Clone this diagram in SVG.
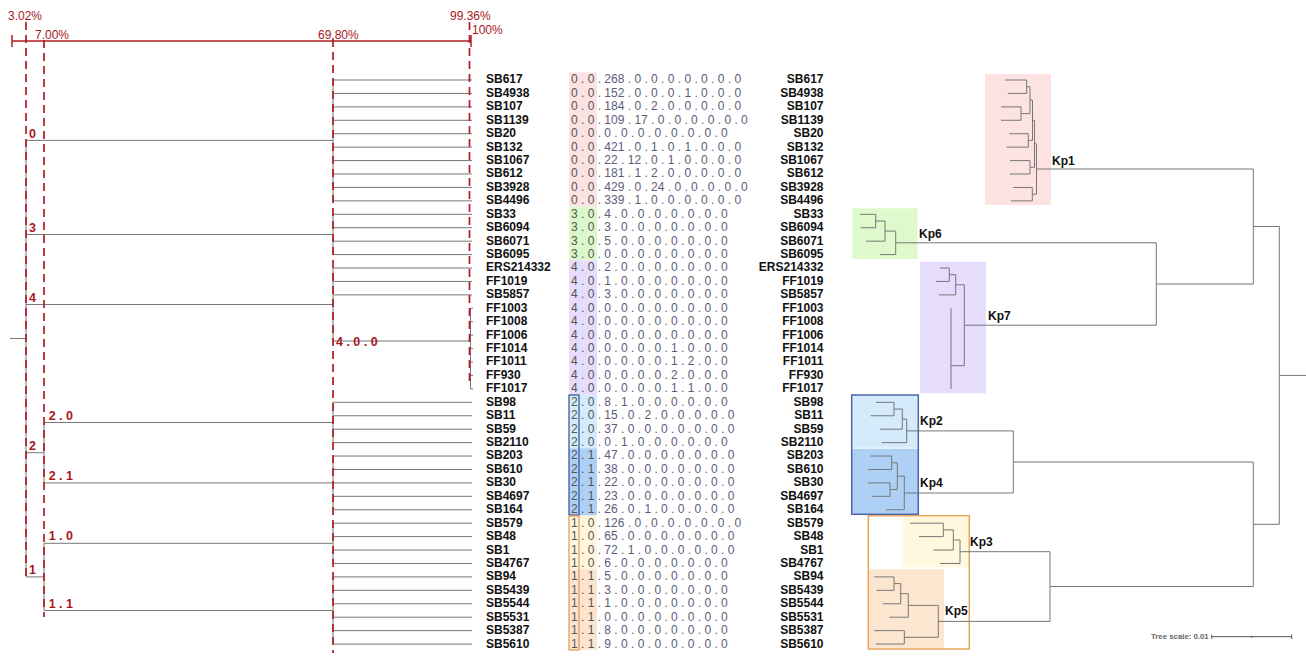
<svg xmlns="http://www.w3.org/2000/svg" width="1306" height="656" viewBox="0 0 1306 656">
<style>
.ax{fill:#a8161e;font-family:"Liberation Sans",Arial,sans-serif;font-size:12px}
.cl{fill:#a8161e;font-family:"Liberation Sans",Arial,sans-serif;font-size:12.5px;font-weight:bold}
.dash{stroke:#b01c22;stroke-width:1.7;stroke-dasharray:8 5;fill:none}
.red{stroke:#b01c22;stroke-width:1.5;fill:none}
.tr{stroke:#777;stroke-width:1;fill:none}
.nm{font-family:"Liberation Sans",Arial,sans-serif;font-size:12px;font-weight:bold;fill:#111}
.nr{font-family:"Liberation Sans",Arial,sans-serif;font-size:12px;font-weight:bold;fill:#111;text-anchor:end}
.cd{font-family:"Liberation Sans",Arial,sans-serif;font-size:12px;fill:#5c5c7a}
.h{fill:#555}
.kp{font-family:"Liberation Sans",Arial,sans-serif;font-size:12px;font-weight:bold;fill:#111}
</style>

<!-- highlight bands -->
<g id="bands">
<rect x="569" y="72.3" width="28" height="134.3" fill="#fde2e2"/>
<rect x="569" y="206.6" width="28" height="53.7" fill="#dcf7cb"/>
<rect x="569" y="260.3" width="28" height="134.3" fill="#e6dcfb"/>
<rect x="569" y="394.6" width="28" height="53.7" fill="#d3ebfb"/>
<rect x="569" y="448.3" width="28" height="67.2" fill="#aed0f5"/>
<rect x="569" y="515.5" width="28" height="53.7" fill="#fff6dc"/>
<rect x="569" y="569.2" width="28" height="80.6" fill="#fde4cf"/>
<rect x="569" y="395" width="10" height="120" fill="none" stroke="#3f5b9a" stroke-width="1.3"/>
<rect x="569" y="516" width="10" height="134" fill="none" stroke="#e3a05a" stroke-width="1.3"/>
</g>

<!-- clade boxes -->
<g id="clades">
<rect x="985" y="74" width="66" height="131" fill="#fde2e2"/>
<rect x="852.3" y="208.3" width="65.4" height="50.7" fill="#def9cc"/>
<rect x="920" y="261.7" width="66" height="131.6" fill="#e6dcfb"/>
<rect x="851.7" y="395" width="66.6" height="52.7" fill="#d3ebfb"/>
<rect x="851.7" y="448.7" width="66.6" height="65.6" fill="#aed0f5"/>
<rect x="851.7" y="395" width="66.6" height="119.3" fill="none" stroke="#4a67a8" stroke-width="1.5"/>
<rect x="903.3" y="516.7" width="65.7" height="50.6" fill="#fff8de"/>
<rect x="869" y="569.3" width="75" height="79" fill="#fde6d0"/>
<rect x="868.3" y="515.7" width="101" height="133.3" fill="none" stroke="#e9a55a" stroke-width="1.5"/>
</g>

<!-- connectors -->
<g id="connectors">
<!-- left tree -->
<path class="tr" d="M10 338.5H26 M26 140.4V576.9
M26 140.4H333 M333 80V200.87
M26 234.5H333 M333 214.3V254.59
M26 304.5H333 M333 268.02V341
M333 341H470.5 M470.5 308.31V388.89
M26 452.7H44 M44 422.5V482.9
M44 422.5H333 M333 402.32V442.61
M44 482.9H333 M333 456.04V509.76
M26 576.9H44 M44 543.3V610.5
M44 543.3H333 M333 523.19V563.48
M44 610.5H333 M333 576.91V644.06
M333 80H472 M333 93.43H472 M333 106.86H472 M333 120.29H472 M333 133.72H472 M333 147.15H472 M333 160.58H472 M333 174.01H472 M333 187.44H472 M333 200.87H472
M333 214.3H472 M333 227.73H472 M333 241.16H472 M333 254.59H472
M333 268.02H472 M333 281.45H472 M333 294.88H472
M470.5 308.31H473 M470.5 321.74H473 M470.5 335.17H473 M470.5 348.6H473 M470.5 362.03H473 M470.5 375.46H473 M470.5 388.89H473
M333 402.32H472 M333 415.75H472 M333 429.18H472 M333 442.61H472
M333 456.04H472 M333 469.47H472 M333 482.9H472 M333 496.33H472 M333 509.76H472
M333 523.19H472 M333 536.62H472 M333 550.05H472 M333 563.48H472
M333 576.91H472 M333 590.34H472 M333 603.77H472 M333 617.2H472 M333 630.63H472 M333 644.06H472"/>
<!-- right tree -->
<path class="tr" d="M1005 80H1026.7 M1007.7 93.43H1026.7 M1026.7 80V93.43 M1026.7 86.7H1030
M1001 106.86H1021 M1001 120.29H1021 M1021 106.86V120.29 M1021 113.6H1030
M1030 86.7V113.6 M1030 100.1H1032.5
M1009.3 133.72H1028.3 M1006.7 147.15H1028.3 M1028.3 133.72V147.15 M1028.3 140.4H1032.5
M1032.5 100.1V140.4 M1032.5 120.3H1034.5
M1010 160.58H1030 M1010 174.01H1030 M1030 160.58V174.01 M1030 167.3H1034.5
M1034.5 120.3V167.3 M1034.5 143.8H1036.5
M1013.3 187.44H1032.3 M1011 200.87H1032.3 M1032.3 187.44V200.87 M1032.3 194.2H1036.5
M1036.5 143.8V194.2 M1036.5 169H1253.3
M860 214.3H875.7 M860.7 227.73H875.7 M875.7 214.3V227.73 M875.7 221H885
M866 241.16H885 M885 221V241.16 M885 231.1H895.7
M880 254.59H895.7 M895.7 231.1V254.59 M895.7 242.8H1156.3
M940 268.02H949.3 M936 281.45H949.3 M949.3 268.02V281.45 M949.3 274.7H955.7
M939 294.88H955.7 M955.7 274.7V294.88 M955.7 284.8H964.3
M951 308.31V388.89 M951 365.7H964.3
M964.3 284.8V365.7 M964.3 325.2H1156.3
M1156.3 242.8V325.2 M1156.3 284H1253.3
M1253.3 169V284 M1253.3 226.5H1279.3
M876 402.32H894 M870.7 415.75H894 M894 402.32V415.75 M894 409H902.3
M880 429.18H902.3 M902.3 409V429.18 M902.3 419.1H906.7
M881.7 442.61H906.7 M906.7 419.1V442.61 M906.7 430.9H1013.3
M870.7 456.04H891.7 M868.3 469.47H891.7 M891.7 456.04V469.47 M891.7 462.8H897.3
M868.3 482.9H890 M871.7 496.33H890 M890 482.9V496.33 M890 489.6H897.3
M897.3 462.8V489.6 M897.3 476.2H904.3
M886 509.76H904.3 M904.3 476.2V509.76 M904.3 493H1013.3
M1013.3 430.9V493 M1013.3 462H1253.3
M910 523.19H943.3 M919 536.62H943.3 M943.3 523.19V536.62 M943.3 529.9H953.3
M933.3 550.05H953.3 M953.3 529.9V550.05 M953.3 540H960
M940 563.48H960 M960 540V563.48 M960 551.7H1050
M874.3 576.91H894 M876.7 590.34H894 M894 576.91V590.34 M894 583.6H900.7
M882.7 603.77H900.7 M900.7 583.6V603.77 M900.7 593.7H908.3
M889.3 617.2H908.3 M908.3 593.7V617.2 M908.3 605.4H938.3
M874.3 630.63H904.3 M875.7 644.06H904.3 M904.3 630.63V644.06 M904.3 637.3H938.3
M938.3 605.4V637.3 M938.3 621.4H1050
M1050 551.7V621.4 M1050 586.5H1253.3
M1253.3 462V586.5 M1253.3 524.3H1279.3
M1279.3 226.5V524.3 M1279.3 375.4H1306"/>
</g>

<!-- axis -->
<g id="axis">
<path class="red" d="M12 41H471 M12 35V47 M471 35V47"/>
<path class="dash" d="M26 22V581 M44 40V617 M333 39V653 M469.5 22V386"/>
<text class="ax" x="8" y="20">3.02%</text>
<text class="ax" x="35" y="38.5">7.00%</text>
<text class="ax" x="318" y="38.5">69.80%</text>
<text class="ax" x="450" y="20">99.36%</text>
<text class="ax" x="472" y="33.5">100%</text>
</g>

<g id="cluster-labels">
<text class="cl" x="29" y="137.8">0</text>
<text class="cl" x="29" y="231.8">3</text>
<text class="cl" x="29" y="301.8">4</text>
<text class="cl" x="336" y="346">4 . 0 . 0</text>
<text class="cl" x="29" y="449.8">2</text>
<text class="cl" x="48.7" y="419.6">2 . 0</text>
<text class="cl" x="48.7" y="480">2 . 1</text>
<text class="cl" x="29" y="573.8">1</text>
<text class="cl" x="48.7" y="540.4">1 . 0</text>
<text class="cl" x="48.7" y="607.6">1 . 1</text>
</g>

<g id="rows">
<g id="r-SB617"><text class="nm" x="486" y="83.4">SB617</text><text class="cd" x="571" y="83.4"><tspan class="h">0 . 0</tspan> . 268 . 0 . 0 . 0 . 0 . 0 . 0 . 0</text><text class="nr" x="823.5" y="83.4">SB617</text></g>
<g id="r-SB4938"><text class="nm" x="486" y="96.8">SB4938</text><text class="cd" x="571" y="96.8"><tspan class="h">0 . 0</tspan> . 152 . 0 . 0 . 0 . 1 . 0 . 0 . 0</text><text class="nr" x="823.5" y="96.8">SB4938</text></g>
<g id="r-SB107"><text class="nm" x="486" y="110.3">SB107</text><text class="cd" x="571" y="110.3"><tspan class="h">0 . 0</tspan> . 184 . 0 . 2 . 0 . 0 . 0 . 0 . 0</text><text class="nr" x="823.5" y="110.3">SB107</text></g>
<g id="r-SB1139"><text class="nm" x="486" y="123.7">SB1139</text><text class="cd" x="571" y="123.7"><tspan class="h">0 . 0</tspan> . 109 . 17 . 0 . 0 . 0 . 0 . 0 . 0</text><text class="nr" x="823.5" y="123.7">SB1139</text></g>
<g id="r-SB20"><text class="nm" x="486" y="137.1">SB20</text><text class="cd" x="571" y="137.1"><tspan class="h">0 . 0</tspan> . 0 . 0 . 0 . 0 . 0 . 0 . 0 . 0</text><text class="nr" x="823.5" y="137.1">SB20</text></g>
<g id="r-SB132"><text class="nm" x="486" y="150.6">SB132</text><text class="cd" x="571" y="150.6"><tspan class="h">0 . 0</tspan> . 421 . 0 . 1 . 0 . 1 . 0 . 0 . 0</text><text class="nr" x="823.5" y="150.6">SB132</text></g>
<g id="r-SB1067"><text class="nm" x="486" y="164">SB1067</text><text class="cd" x="571" y="164"><tspan class="h">0 . 0</tspan> . 22 . 12 . 0 . 1 . 0 . 0 . 0 . 0</text><text class="nr" x="823.5" y="164">SB1067</text></g>
<g id="r-SB612"><text class="nm" x="486" y="177.4">SB612</text><text class="cd" x="571" y="177.4"><tspan class="h">0 . 0</tspan> . 181 . 1 . 2 . 0 . 0 . 0 . 0 . 0</text><text class="nr" x="823.5" y="177.4">SB612</text></g>
<g id="r-SB3928"><text class="nm" x="486" y="190.8">SB3928</text><text class="cd" x="571" y="190.8"><tspan class="h">0 . 0</tspan> . 429 . 0 . 24 . 0 . 0 . 0 . 0 . 0</text><text class="nr" x="823.5" y="190.8">SB3928</text></g>
<g id="r-SB4496"><text class="nm" x="486" y="204.3">SB4496</text><text class="cd" x="571" y="204.3"><tspan class="h">0 . 0</tspan> . 339 . 1 . 0 . 0 . 0 . 0 . 0 . 0</text><text class="nr" x="823.5" y="204.3">SB4496</text></g>
<g id="r-SB33"><text class="nm" x="486" y="217.7">SB33</text><text class="cd" x="571" y="217.7"><tspan class="h">3 . 0</tspan> . 4 . 0 . 0 . 0 . 0 . 0 . 0 . 0</text><text class="nr" x="823.5" y="217.7">SB33</text></g>
<g id="r-SB6094"><text class="nm" x="486" y="231.1">SB6094</text><text class="cd" x="571" y="231.1"><tspan class="h">3 . 0</tspan> . 3 . 0 . 0 . 0 . 0 . 0 . 0 . 0</text><text class="nr" x="823.5" y="231.1">SB6094</text></g>
<g id="r-SB6071"><text class="nm" x="486" y="244.6">SB6071</text><text class="cd" x="571" y="244.6"><tspan class="h">3 . 0</tspan> . 5 . 0 . 0 . 0 . 0 . 0 . 0 . 0</text><text class="nr" x="823.5" y="244.6">SB6071</text></g>
<g id="r-SB6095"><text class="nm" x="486" y="258">SB6095</text><text class="cd" x="571" y="258"><tspan class="h">3 . 0</tspan> . 0 . 0 . 0 . 0 . 0 . 0 . 0 . 0</text><text class="nr" x="823.5" y="258">SB6095</text></g>
<g id="r-ERS214332"><text class="nm" x="486" y="271.4">ERS214332</text><text class="cd" x="571" y="271.4"><tspan class="h">4 . 0</tspan> . 2 . 0 . 0 . 0 . 0 . 0 . 0 . 0</text><text class="nr" x="823.5" y="271.4">ERS214332</text></g>
<g id="r-FF1019"><text class="nm" x="486" y="284.9">FF1019</text><text class="cd" x="571" y="284.9"><tspan class="h">4 . 0</tspan> . 1 . 0 . 0 . 0 . 0 . 0 . 0 . 0</text><text class="nr" x="823.5" y="284.9">FF1019</text></g>
<g id="r-SB5857"><text class="nm" x="486" y="298.3">SB5857</text><text class="cd" x="571" y="298.3"><tspan class="h">4 . 0</tspan> . 3 . 0 . 0 . 0 . 0 . 0 . 0 . 0</text><text class="nr" x="823.5" y="298.3">SB5857</text></g>
<g id="r-FF1003"><text class="nm" x="486" y="311.7">FF1003</text><text class="cd" x="571" y="311.7"><tspan class="h">4 . 0</tspan> . 0 . 0 . 0 . 0 . 0 . 0 . 0 . 0</text><text class="nr" x="823.5" y="311.7">FF1003</text></g>
<g id="r-FF1008"><text class="nm" x="486" y="325.1">FF1008</text><text class="cd" x="571" y="325.1"><tspan class="h">4 . 0</tspan> . 0 . 0 . 0 . 0 . 0 . 0 . 0 . 0</text><text class="nr" x="823.5" y="325.1">FF1008</text></g>
<g id="r-FF1006"><text class="nm" x="486" y="338.6">FF1006</text><text class="cd" x="571" y="338.6"><tspan class="h">4 . 0</tspan> . 0 . 0 . 0 . 0 . 0 . 0 . 0 . 0</text><text class="nr" x="823.5" y="338.6">FF1006</text></g>
<g id="r-FF1014"><text class="nm" x="486" y="352">FF1014</text><text class="cd" x="571" y="352"><tspan class="h">4 . 0</tspan> . 0 . 0 . 0 . 0 . 1 . 0 . 0 . 0</text><text class="nr" x="823.5" y="352">FF1014</text></g>
<g id="r-FF1011"><text class="nm" x="486" y="365.4">FF1011</text><text class="cd" x="571" y="365.4"><tspan class="h">4 . 0</tspan> . 0 . 0 . 0 . 0 . 1 . 2 . 0 . 0</text><text class="nr" x="823.5" y="365.4">FF1011</text></g>
<g id="r-FF930"><text class="nm" x="486" y="378.9">FF930</text><text class="cd" x="571" y="378.9"><tspan class="h">4 . 0</tspan> . 0 . 0 . 0 . 0 . 2 . 0 . 0 . 0</text><text class="nr" x="823.5" y="378.9">FF930</text></g>
<g id="r-FF1017"><text class="nm" x="486" y="392.3">FF1017</text><text class="cd" x="571" y="392.3"><tspan class="h">4 . 0</tspan> . 0 . 0 . 0 . 0 . 1 . 1 . 0 . 0</text><text class="nr" x="823.5" y="392.3">FF1017</text></g>
<g id="r-SB98"><text class="nm" x="486" y="405.7">SB98</text><text class="cd" x="571" y="405.7"><tspan class="h">2 . 0</tspan> . 8 . 1 . 0 . 0 . 0 . 0 . 0 . 0</text><text class="nr" x="823.5" y="405.7">SB98</text></g>
<g id="r-SB11"><text class="nm" x="486" y="419.2">SB11</text><text class="cd" x="571" y="419.2"><tspan class="h">2 . 0</tspan> . 15 . 0 . 2 . 0 . 0 . 0 . 0 . 0</text><text class="nr" x="823.5" y="419.2">SB11</text></g>
<g id="r-SB59"><text class="nm" x="486" y="432.6">SB59</text><text class="cd" x="571" y="432.6"><tspan class="h">2 . 0</tspan> . 37 . 0 . 0 . 0 . 0 . 0 . 0 . 0</text><text class="nr" x="823.5" y="432.6">SB59</text></g>
<g id="r-SB2110"><text class="nm" x="486" y="446">SB2110</text><text class="cd" x="571" y="446"><tspan class="h">2 . 0</tspan> . 0 . 1 . 0 . 0 . 0 . 0 . 0 . 0</text><text class="nr" x="823.5" y="446">SB2110</text></g>
<g id="r-SB203"><text class="nm" x="486" y="459.4">SB203</text><text class="cd" x="571" y="459.4"><tspan class="h">2 . 1</tspan> . 47 . 0 . 0 . 0 . 0 . 0 . 0 . 0</text><text class="nr" x="823.5" y="459.4">SB203</text></g>
<g id="r-SB610"><text class="nm" x="486" y="472.9">SB610</text><text class="cd" x="571" y="472.9"><tspan class="h">2 . 1</tspan> . 38 . 0 . 0 . 0 . 0 . 0 . 0 . 0</text><text class="nr" x="823.5" y="472.9">SB610</text></g>
<g id="r-SB30"><text class="nm" x="486" y="486.3">SB30</text><text class="cd" x="571" y="486.3"><tspan class="h">2 . 1</tspan> . 22 . 0 . 0 . 0 . 0 . 0 . 0 . 0</text><text class="nr" x="823.5" y="486.3">SB30</text></g>
<g id="r-SB4697"><text class="nm" x="486" y="499.7">SB4697</text><text class="cd" x="571" y="499.7"><tspan class="h">2 . 1</tspan> . 23 . 0 . 0 . 0 . 0 . 0 . 0 . 0</text><text class="nr" x="823.5" y="499.7">SB4697</text></g>
<g id="r-SB164"><text class="nm" x="486" y="513.2">SB164</text><text class="cd" x="571" y="513.2"><tspan class="h">2 . 1</tspan> . 26 . 0 . 1 . 0 . 0 . 0 . 0 . 0</text><text class="nr" x="823.5" y="513.2">SB164</text></g>
<g id="r-SB579"><text class="nm" x="486" y="526.6">SB579</text><text class="cd" x="571" y="526.6"><tspan class="h">1 . 0</tspan> . 126 . 0 . 0 . 0 . 0 . 0 . 0 . 0</text><text class="nr" x="823.5" y="526.6">SB579</text></g>
<g id="r-SB48"><text class="nm" x="486" y="540">SB48</text><text class="cd" x="571" y="540"><tspan class="h">1 . 0</tspan> . 65 . 0 . 0 . 0 . 0 . 0 . 0 . 0</text><text class="nr" x="823.5" y="540">SB48</text></g>
<g id="r-SB1"><text class="nm" x="486" y="553.5">SB1</text><text class="cd" x="571" y="553.5"><tspan class="h">1 . 0</tspan> . 72 . 1 . 0 . 0 . 0 . 0 . 0 . 0</text><text class="nr" x="823.5" y="553.5">SB1</text></g>
<g id="r-SB4767"><text class="nm" x="486" y="566.9">SB4767</text><text class="cd" x="571" y="566.9"><tspan class="h">1 . 0</tspan> . 6 . 0 . 0 . 0 . 0 . 0 . 0 . 0</text><text class="nr" x="823.5" y="566.9">SB4767</text></g>
<g id="r-SB94"><text class="nm" x="486" y="580.3">SB94</text><text class="cd" x="571" y="580.3"><tspan class="h">1 . 1</tspan> . 5 . 0 . 0 . 0 . 0 . 0 . 0 . 0</text><text class="nr" x="823.5" y="580.3">SB94</text></g>
<g id="r-SB5439"><text class="nm" x="486" y="593.7">SB5439</text><text class="cd" x="571" y="593.7"><tspan class="h">1 . 1</tspan> . 3 . 0 . 0 . 0 . 0 . 0 . 0 . 0</text><text class="nr" x="823.5" y="593.7">SB5439</text></g>
<g id="r-SB5544"><text class="nm" x="486" y="607.2">SB5544</text><text class="cd" x="571" y="607.2"><tspan class="h">1 . 1</tspan> . 1 . 0 . 0 . 0 . 0 . 0 . 0 . 0</text><text class="nr" x="823.5" y="607.2">SB5544</text></g>
<g id="r-SB5531"><text class="nm" x="486" y="620.6">SB5531</text><text class="cd" x="571" y="620.6"><tspan class="h">1 . 1</tspan> . 0 . 0 . 0 . 0 . 0 . 0 . 0 . 0</text><text class="nr" x="823.5" y="620.6">SB5531</text></g>
<g id="r-SB5387"><text class="nm" x="486" y="634">SB5387</text><text class="cd" x="571" y="634"><tspan class="h">1 . 1</tspan> . 8 . 0 . 0 . 0 . 0 . 0 . 0 . 0</text><text class="nr" x="823.5" y="634">SB5387</text></g>
<g id="r-SB5610"><text class="nm" x="486" y="647.5">SB5610</text><text class="cd" x="571" y="647.5"><tspan class="h">1 . 1</tspan> . 9 . 0 . 0 . 0 . 0 . 0 . 0 . 0</text><text class="nr" x="823.5" y="647.5">SB5610</text></g>
</g>

<g id="kp-labels">
<text class="kp" x="1052" y="164.5">Kp1</text>
<text class="kp" x="919" y="237.5">Kp6</text>
<text class="kp" x="988" y="320">Kp7</text>
<text class="kp" x="920" y="425">Kp2</text>
<text class="kp" x="920" y="487">Kp4</text>
<text class="kp" x="970" y="546">Kp3</text>
<text class="kp" x="945" y="614.5">Kp5</text>
</g>

<g id="tree-scale">
<text x="1151" y="639.4" font-family="'Liberation Sans',Arial,sans-serif" font-size="7.8" font-weight="bold" fill="#666">Tree scale: 0.01</text>
<path d="M1211.7 636.7H1291.7 M1211.7 634.5V639 M1291.7 634.5V639 M1251.7 635.7V637.7" stroke="#555" stroke-width="1" fill="none"/>
</g>
</svg>
